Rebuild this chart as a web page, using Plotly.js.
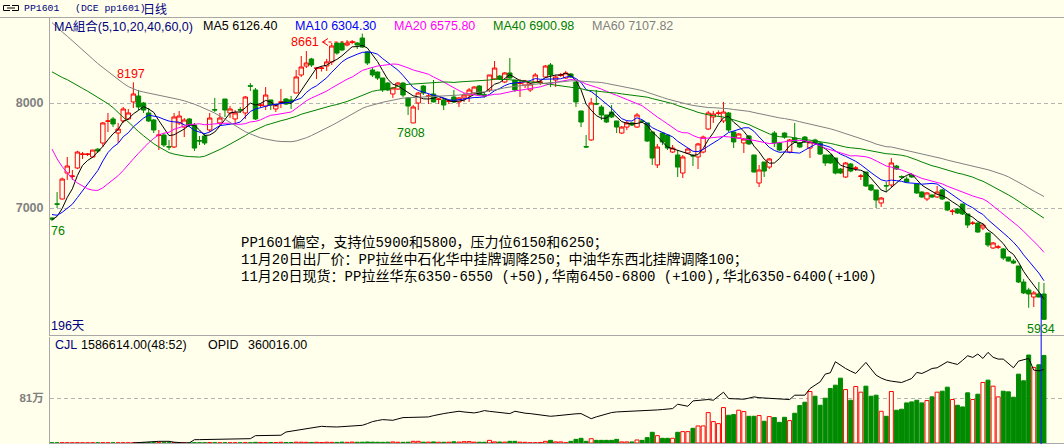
<!DOCTYPE html>
<html><head><meta charset="utf-8">
<script src="https://cdn.plot.ly/plotly-3.0.1.min.js"></script>
<style>html,body{margin:0;padding:0;background:#FFFFEB;}#chart{width:1064px;height:444px;}</style>
</head><body><div id="chart"></div>
<script>
// ---------------- DATA ----------------
// closes before the visible window (only used to seed the moving averages)
const priorCloses = [
9850,9800,9820,9810,10100,10200,10150,10180,10170,
10150,10100,10080,10050,10000,9800,9500,
9000,8600,8400,8300,8250,8200,8250,
8500,8560,8600,8590,
8700,8800,8900,9100,9300,9600,9800,9850,9800,
9700,9550,9400,9200,
8900,8750,8600,8450,8300,8150,8000,
7800,7600,7300,7100,7000,6980,6950,
6900,6880,6900,6870,6900];

const opens = [
6905,7040,7086,7333,7300,7381,7510,7510,7486,7560,
7619,7825,7848,7714,7829,7848,8010,8067,8000,7905,
7838,7690,7695,7585,7581,7810,7771,7848,7790,7642,
7686,7743,7938,7810,8038,7905,7848,7938,7905,8165,
8124,7976,7971,8029,7943,8005,8038,8029,8095,8267,
8352,8419,8330,8330,8352,8391,8571,8571,8552,8578,
8571,8619,8486,8314,8295,8238,8190,8086,8133,8190,
8048,7810,8000,8162,8062,8086,8033,8029,8015,8057,
8010,8048,8076,8095,8162,8080,8124,8229,8257,8200,
8286,8219,8186,8171,8124,8200,8195,8248,8362,8219,
8262,8238,8276,8200,7924,7585,7648,7995,7962,7886,
7914,7829,7714,7771,7810,7771,7829,7810,7724,7410,
7714,7695,7533,7505,7333,7524,7500,7486,7533,7752,
7867,7900,7829,7905,7724,7667,7619,7686,7505,7238,
7438,7390,7714,7619,7714,7533,7667,7619,7676,7571,
7648,7619,7505,7505,7476,7371,7295,7419,7378,7300,
7343,7219,7172,7048,7214,7219,7400,7300,7276,7314,
7229,7152,7086,7124,7105,7172,7057,6966,6990,7038,
6943,6853,6857,6810,6762,6619,6627,6610,6533,6495,
6448,6295,6219,6152,6181,6181];

const highs = [
6910,7152,7290,7486,7362,7545,7533,7524,7552,7571,
7819,7905,7867,7810,7962,7943,8197,8124,8010,7952,
7848,7743,7714,7648,7905,7924,7857,7857,7810,7686,
7714,7905,8048,7905,8038,7971,7933,7962,8067,8190,
8143,7995,8152,8029,7990,8133,8048,8067,8314,8448,
8495,8430,8343,8350,8420,8572,8580,8590,8600,8600,
8580,8661,8490,8333,8300,8238,8200,8152,8200,8200,
8057,7981,8105,8171,8086,8219,8048,8038,8029,8124,
8057,8095,8143,8160,8171,8095,8267,8400,8267,8295,
8429,8219,8229,8220,8190,8286,8219,8362,8381,8267,
8286,8305,8286,8200,7924,7695,8048,8124,7981,7886,
7981,7829,7781,7829,7819,7905,7840,7810,7724,7610,
7714,7695,7600,7552,7505,7571,7514,7620,7690,7924,
7924,7930,8010,7914,7733,7714,7667,7695,7505,7410,
7438,7476,7733,7629,7720,7657,7810,7629,7686,7638,
7660,7629,7505,7510,7476,7380,7438,7429,7400,7324,
7343,7229,7172,7105,7248,7476,7410,7310,7300,7320,
7229,7160,7152,7130,7210,7180,7060,6990,7000,7040,
6943,6876,6860,6857,6762,6676,6648,6619,6535,6514,
6448,6324,6240,6210,6295,6286];

const lows = [
6876,7000,7080,7267,7267,7371,7467,7495,7476,7524,
7581,7724,7771,7619,7810,7838,7952,7933,7905,7819,
7714,7552,7581,7552,7571,7790,7676,7771,7543,7600,
7600,7724,7914,7790,7867,7857,7800,7905,7848,8114,
7838,7960,7933,7933,7914,7952,7981,7943,8095,8248,
8333,8343,8229,8300,8305,8362,8460,8495,8540,8560,
8514,8524,8362,8248,8220,8105,8114,8048,8124,8057,
7886,7808,7933,8076,7990,8005,7990,7933,7990,8000,
7962,8010,8010,8086,8067,8050,8105,8219,8219,8190,
8229,8105,8057,8143,8105,8190,8171,8238,8152,8152,
8250,8229,8238,7962,7771,7575,7640,7981,7838,7810,
7857,7714,7705,7743,7781,7762,7810,7629,7410,7381,
7600,7552,7524,7295,7286,7514,7400,7371,7520,7743,
7810,7880,7810,7724,7571,7657,7524,7600,7338,7200,
7295,7371,7581,7540,7660,7520,7620,7571,7620,7476,
7610,7505,7400,7420,7320,7324,7286,7340,7352,7267,
7200,7160,7000,7010,7152,7200,7362,7280,7240,7286,
7135,7095,7067,7095,7095,7076,6970,6933,6943,6933,
6810,6838,6765,6790,6629,6610,6610,6505,6490,6467,
6286,6181,6050,6057,6150,5934];

const closes = [
6895,7035,7276,7400,7305,7533,7514,7514,7552,7543,
7810,7829,7800,7752,7943,7905,8086,7962,7933,7829,
7743,7695,7600,7581,7867,7876,7838,7790,7571,7638,
7619,7857,7933,7857,7933,7943,7905,7933,8057,8160,
7848,7981,8076,7981,7981,8010,7990,8010,8248,8343,
8381,8362,8333,8333,8391,8543,8476,8505,8571,8581,
8552,8533,8381,8267,8238,8124,8124,8143,8190,8076,
7971,7962,8095,8095,8067,8010,8038,7981,8019,8010,
8048,8076,8124,8152,8076,8067,8267,8333,8229,8286,
8238,8124,8190,8210,8181,8267,8200,8352,8267,8248,
8267,8286,8248,8010,7819,7581,8000,7990,7886,7819,
7867,7771,7771,7810,7790,7886,7825,7638,7476,7581,
7629,7571,7571,7390,7486,7562,7495,7610,7676,7905,
7895,7905,7914,7743,7629,7705,7657,7610,7343,7362,
7352,7467,7619,7552,7676,7648,7629,7581,7629,7629,
7619,7514,7429,7429,7333,7333,7429,7352,7381,7305,
7210,7172,7076,7095,7210,7429,7371,7295,7248,7295,
7143,7105,7143,7105,7152,7086,6981,6971,6952,6943,
6838,6857,6771,6838,6648,6667,6629,6524,6495,6476,
6295,6191,6181,6191,6152,5940];

// volume (CJL) in units of 10 000 (万)
const volWan = [
0.4,0.3,0.5,0.4,0.3,0.4,0.3,0.3,0.4,0.3,0.5,0.4,0.3,0.3,0.4,0.3,
0.5,0.4,0.4,0.3,0.4,0.5,0.4,0.3,0.6,0.4,0.4,0.3,0.5,0.4,0.4,0.9,0.5,0.4,0.5,0.4,0.4,0.3,0.6,0.5,
1.2,1.0,0.8,0.9,0.8,1.3,0.9,0.8,1.5,1.4,1.2,1.0,1.3,0.9,1.4,1.1,1.0,1.5,1.2,1.6,
1.3,1.4,1.8,1.5,1.3,1.2,1.4,1.9,1.3,1.2,1.4,3.0,3.0,1.5,1.6,2.0,1.4,1.3,1.5,2.2,
1.6,2.4,2.6,1.5,1.4,1.3,4.8,2.0,1.8,1.6,3.0,3.0,1.5,1.2,
0.5,0.5,1.0,3.0,4.8,2.0,2.0,0.5,3.0,6.6,
8.5,3.0,7.8,4.8,4.8,4.8,4.8,6.6,2.0,2.0,
2.0,5.5,4.8,9.7,19.4,13.3,8.5,8.5,8.5,19.4,
20.6,20.6,26.6,30.9,30.9,55.1,38.8,35.1,64.2,50.3,
51.5,59.4,57.0,48.4,48.4,49.7,39.4,47.8,46.0,37.5,
46.6,40.6,53.9,67.8,73.9,93.3,84.8,68.4,81.2,98.7,
104.8,117.5,96.9,77.5,102.4,92.1,103.0,84.8,86.6,57.5,
48.4,93.3,59.4,61.2,72.7,74.5,77.5,72.7,76.9,83.6,
92.1,93.9,101.2,78.8,68.4,65.4,90.9,78.8,88.4,109.7,
113.9,103.0,83.6,93.9,92.7,83.0,124.8,112.7,159.4,137.0,
141.8,158.66];

// open interest (OPID)
const opid = [
null,null,null,null,null,null,null,null,null,null,null,null,null,null,null,null,
500,2000,5000,8200,8200,8200,8200,8200,4000,1000,500,500,
16200,16500,17000,17500,18000,18500,19000,19500,20000,20500,21000,21200,
35900,35900,35900,35900,35900,38000,
53900,58000,62000,65400,70000,75000,78400,81800,
80000,78400,78400,80000,82000,84000,85000,
86700,95000,104700,110000,114500,113000,111200,118000,
124400,125000,126000,127000,127600,127600,134000,140000,
144000,148000,152000,155500,152000,149000,147300,152000,158700,
155000,152200,150000,147000,144000,155500,150000,146000,
144000,140000,136000,133000,130900,133000,136000,139000,141000,143000,144000,132000,
119000,128000,136000,144000,149000,152200,153000,154000,155500,156500,157500,159000,
160400,162000,164000,166000,168600,189900,185000,180000,206200,208000,210000,213000,
209500,230000,248800,217700,216000,215000,214400,220000,225900,222000,220000,217700,
216000,215000,214000,212800,234100,234100,234100,266800,283000,299600,337300,343800,
397900,380000,365100,352000,340600,368000,394600,363000,332400,318000,308000,302900,
299000,296300,306000,316000,345500,340600,352000,365100,368400,383000,397900,391000,
384800,405000,427400,419200,435600,414300,443800,420000,411000,411000,390000,368400,
401200,408000,414300,356900,353600,360016];

const maPeriods = [5, 10, 20, 40, 60];
const priceTicks = [7000, 8000];
const volTicks = [81];
const volTickText = ['81万'];

// ---------------- RENDER ----------------
const BG = '#FFFFEB', RED = '#FF0000', GRN = '#008A00';
const W = 1064, H = 444, ML = 50, MT = 17, PW = W - ML, PH = H - MT;
const fx = px => (px - ML) / PW;
const fy = py => (H - py) / PH;

const n = closes.length;
const idx = closes.map((_, i) => i);
const full = priorCloses.concat(closes);
const off = priorCloses.length;
function ma(p) {
  return closes.map((_, i) => {
    let s = 0;
    for (let k = off + i - p + 1; k <= off + i; k++) s += full[k];
    return s / p;
  });
}
const maColors = ['#000000', '#0000FF', '#FF00FF', '#008000', '#808080'];

const up = closes.map((c, i) => c >= opens[i]);

const traces = [];
traces.push({
  type: 'candlestick', x: idx, open: opens, high: highs, low: lows, close: closes,
  xaxis: 'x', yaxis: 'y', whiskerwidth: 0, hoverinfo: 'skip',
  increasing: {line: {color: RED, width: 1}, fillcolor: BG},
  decreasing: {line: {color: GRN, width: 1}, fillcolor: GRN}
});
maPeriods.forEach((p, k) => traces.push({
  type: 'scatter', mode: 'lines', x: idx, y: ma(p), xaxis: 'x', yaxis: 'y',
  line: {color: maColors[k], width: 1}, hoverinfo: 'skip'
}));
traces.push({
  type: 'bar', x: idx, y: volWan, xaxis: 'x', yaxis: 'y2', width: 0.78,
  marker: {color: up.map(u => u ? BG : GRN), line: {color: up.map(u => u ? RED : GRN), width: 1}},
  hoverinfo: 'skip'
});
traces.push({
  type: 'scatter', mode: 'lines', x: idx, y: opid, xaxis: 'x', yaxis: 'y3',
  line: {color: '#000000', width: 1}, hoverinfo: 'skip'
});

const SANS = 'Liberation Sans, Noto Sans CJK SC, sans-serif';
const MONO = 'Liberation Mono, Noto Sans CJK SC, monospace';
function ann(text, px, py, color, size, xanchor, family) {
  return {text: text, xref: 'paper', yref: 'paper', x: fx(px), y: fy(py),
    xanchor: xanchor || 'left', yanchor: 'middle', showarrow: false, borderpad: 0,
    font: {family: family || SANS, size: size || 12.5, color: color}};
}
const annotations = [
  ann('PP1601', 22.5, 8.5, '#000080', 9.8, 'left', MONO),
  ann('(DCE pp1601)', 73.5, 8.5, '#000080', 9.8, 'left', MONO),
  ann('日线', 142, 8.5, '#000080', 12, 'left', 'Noto Sans CJK SC'),
  ann('MA組合(5,10,20,40,60,0)', 52.5, 26, '#000080'),
  ann('MA5 6126.40', 201.5, 26, '#000000'),
  ann('MA10 6304.30', 293.5, 26, '#0000FF'),
  ann('MA20 6575.80', 392.5, 26, '#FF00FF'),
  ann('MA40 6900.98', 491.5, 26, '#008000'),
  ann('MA60 7107.82', 590.5, 26, '#808080'),
  ann('8197', 130.5, 73.5, RED, 12.5, 'center'),
  ann('8661', 320, 42, RED, 12.5, 'right'),
  ann('7808', 410.5, 132.5, '#008000', 12.5, 'center'),
  ann('76', 49.5, 230.5, '#008000'),
  ann('5934', 1026, 328.5, '#008000'),
  ann('196天', 50, 325.5, '#000080'),
  ann('PP1601偏空，支持位5900和5800，压力位6150和6250；', 239.5, 243, '#000000', 14, 'left', MONO),
  ann('11月20日出厂价：PP拉丝中石化华中挂牌调降250；中油华东西北挂牌调降100；', 239.5, 259.5, '#000000', 14, 'left', MONO),
  ann('11月20日现货：PP拉丝华东6350-6550 (+50),华南6450-6800 (+100),华北6350-6400(+100)', 239.5, 276, '#000000', 14, 'left', MONO),
  ann('CJL', 53.5, 345, '#000080'),
  ann('1586614.00(48:52)', 79.5, 345, '#000000'),
  ann('OPID', 206.5, 345, '#000000'),
  ann('360016.00', 246.5, 345, '#000000')
];

function pline(x0, y0, x1, y1, color, dash) {
  return {type: 'line', xref: 'paper', yref: 'paper', x0: fx(x0), y0: fy(y0), x1: fx(x1), y1: fy(y1),
    line: {color: color, width: 1, dash: dash || 'solid'}, layer: 'above'};
}
function ppath(pts, color) {
  return {type: 'path', xref: 'paper', yref: 'paper', layer: 'above',
    path: pts.map((p, i) => (i ? 'L ' : 'M ') + fx(p[0]) + ',' + fy(p[1])).join(' '),
    line: {color: color, width: 1}};
}
const shapes = [
  pline(0, 17.5, W, 17.5, '#A8A8A8'),
  pline(ML, 335.5, W, 335.5, '#A8A8A8'),
  pline(ML, 443.5, W, 443.5, '#A8A8A8'),
  // link icon in the header
  ppath([[10, 5.5], [3.5, 5.5], [3.5, 10.5], [10, 10.5]], '#000000'),
  ppath([[12, 5.5], [18.5, 5.5], [18.5, 10.5], [12, 10.5]], '#000000'),
  pline(7, 8, 15, 8, '#000000'),
  // leader of the 8661 label
  ppath([[328, 38.5], [322.5, 42], [328, 45.5]], RED),
  pline(322.5, 42, 357, 42, RED, 'dot'),
  // cursor line at the last bar
  {type: 'line', xref: 'x', yref: 'paper', x0: 194.45, x1: 194.45, y0: fy(294), y1: 0,
    line: {color: '#0000FF', width: 1}, layer: 'above'}
];

const layout = {
  width: W, height: H, margin: {l: ML, r: 0, t: MT, b: 0, pad: 0},
  paper_bgcolor: BG, plot_bgcolor: BG, showlegend: false,
  boxgap: 0.14, boxgroupgap: 0,
  xaxis: {range: [-0.393, 198.94], showticklabels: false, showgrid: false, zeroline: false,
    showline: false, ticks: '', rangeslider: {visible: false}, fixedrange: true, anchor: 'y2'},
  yaxis: {domain: [fy(335.5), 1], range: [5785.7, 8819.1], tickvals: priceTicks,
    ticktext: priceTicks.map(String), ticks: 'outside', ticklen: 3, tickcolor: 'rgba(0,0,0,0)',
    tickfont: {family: 'Liberation Sans', size: 12.5, color: '#808080', weight: 'bold'},
    showgrid: true, gridcolor: '#B4B4B4', griddash: '4px,3px', gridwidth: 1, zeroline: false,
    showline: true, linecolor: '#A8A8A8', linewidth: 1, fixedrange: true},
  yaxis2: {domain: [0, fy(336.5)], range: [-1.812, 193.0], tickvals: volTicks, ticktext: volTickText,
    ticks: 'outside', ticklen: 3, tickcolor: 'rgba(0,0,0,0)',
    tickfont: {family: 'Liberation Sans, Noto Sans CJK SC', size: 11.5, color: '#808080', weight: 'bold'},
    showgrid: true, gridcolor: '#B4B4B4', griddash: '4px,3px', gridwidth: 1, zeroline: false,
    showline: true, linecolor: '#A8A8A8', linewidth: 1, fixedrange: true},
  yaxis3: {overlaying: 'y2', range: [-4898, 521637], visible: false, fixedrange: true},
  annotations: annotations, shapes: shapes
};

Plotly.newPlot('chart', traces, layout, {displayModeBar: false, staticPlot: true});
</script>
</body></html>
